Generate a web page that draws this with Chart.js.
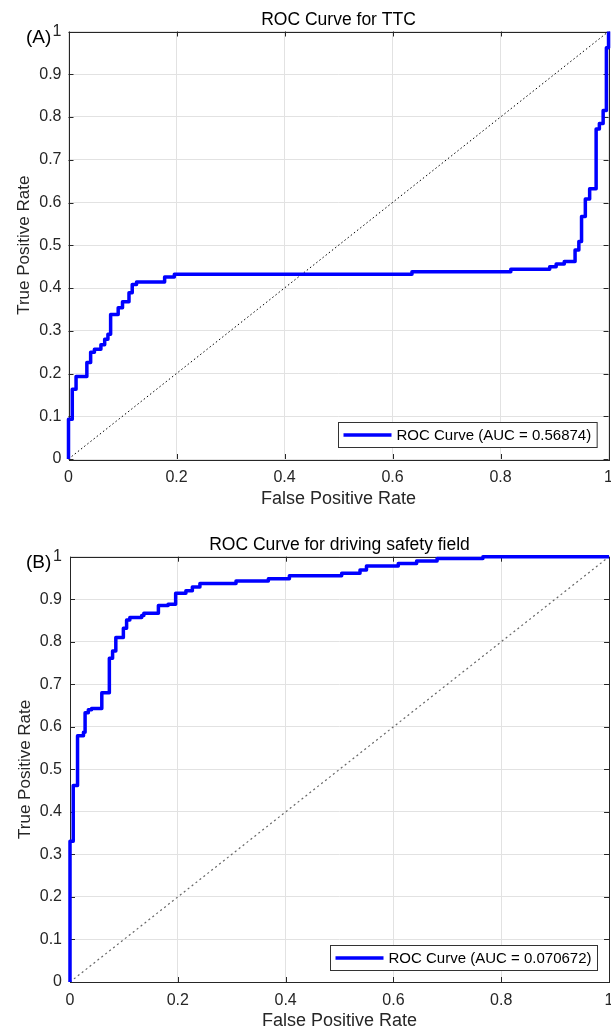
<!DOCTYPE html>
<html>
<head>
<meta charset="utf-8">
<script src="https://cdn.jsdelivr.net/npm/chart.js@4.4.1/dist/chart.umd.min.js"></script>
<style>
  html, body { margin: 0; padding: 0; background: #fff; overflow: hidden; }
  .box { position: absolute; left: 0; width: 622px; }
  #boxA { top: 0; height: 510px; }
  #boxB { top: 510px; height: 522px; }
</style>
</head>
<body>
<div class="box" id="boxA"><canvas id="rocA"></canvas></div>
<div class="box" id="boxB"><canvas id="rocB"></canvas></div>
<script>
// ROC points (fpr where tpr steps up, new tpr)
const fprTTC = [0, 0, 0.007, 0.014, 0.034, 0.041, 0.048, 0.060, 0.067, 0.073, 0.078, 0.092, 0.100, 0.112, 0.118, 0.126,
  0.178, 0.196, 0.636, 0.819, 0.891, 0.903, 0.918, 0.938, 0.945, 0.950, 0.957, 0.965, 0.977, 0.983, 0.990, 0.996, 1];
const tprTTC = [0, 0.093, 0.163, 0.193, 0.226, 0.250, 0.257, 0.267, 0.280, 0.292, 0.338, 0.354, 0.368, 0.389, 0.408, 0.414,
  0.426, 0.432, 0.438, 0.444, 0.450, 0.456, 0.462, 0.489, 0.509, 0.567, 0.608, 0.632, 0.772, 0.785, 0.815, 0.962, 1];

const fprDSF = [0, 0, 0.006, 0.014, 0.025, 0.028, 0.034, 0.040, 0.059, 0.073, 0.079, 0.085, 0.099, 0.105, 0.111, 0.133,
  0.137, 0.164, 0.182, 0.196, 0.215, 0.227, 0.241, 0.308, 0.368, 0.407, 0.504, 0.538, 0.550, 0.609, 0.643, 0.681, 0.766, 1];
const tprDSF = [0, 0.331, 0.462, 0.579, 0.587, 0.633, 0.640, 0.643, 0.680, 0.761, 0.778, 0.810, 0.832, 0.851, 0.857, 0.862,
  0.867, 0.885, 0.888, 0.914, 0.920, 0.929, 0.937, 0.943, 0.948, 0.955, 0.961, 0.969, 0.978, 0.984, 0.990, 0.996, 1, 1];

const diagonal = [0, 1];
const labelTTC = 'ROC Curve (AUC = 0.56874)';
const labelDSF = 'ROC Curve (AUC = 0.070672)';

const FONT = '"Liberation Sans", Arial, sans-serif';
const INK = '#262626';

const fmt = v => String(+(+v).toFixed(1));

// box, inward ticks, title, panel letter and legend the matlab way
const matlabBox = {
  id: 'matlabBox',
  beforeDatasetsDraw(chart) {
    const {ctx, chartArea: a, scales: {x, y}} = chart;
    ctx.save();
    ctx.strokeStyle = INK;
    ctx.lineWidth = 1;
    ctx.beginPath();
    x.ticks.forEach(t => {
      const px = Math.round(x.getPixelForValue(t.value)) + 0.5;
      ctx.moveTo(px, a.bottom); ctx.lineTo(px, a.bottom - 5);
      ctx.moveTo(px, a.top); ctx.lineTo(px, a.top + 5);
    });
    y.ticks.forEach(t => {
      const py = Math.round(y.getPixelForValue(t.value)) + 0.5;
      ctx.moveTo(a.left, py); ctx.lineTo(a.left + 5, py);
      ctx.moveTo(a.right, py); ctx.lineTo(a.right - 5, py);
    });
    ctx.stroke();
    ctx.strokeRect(Math.round(a.left) + 0.5, Math.round(a.top) + 0.5,
      Math.round(a.right - a.left), Math.round(a.bottom - a.top));
    ctx.restore();
  },
  afterDraw(chart, args, opts) {
    const {ctx, chartArea: a} = chart;
    ctx.save();
    ctx.fillStyle = '#000';
    ctx.textBaseline = 'middle';
    ctx.textAlign = 'center';
    ctx.font = '17.5px ' + FONT;
    ctx.fillText(opts.title, (a.left + a.right) / 2, a.top - 11.5);
    ctx.textAlign = 'left';
    ctx.font = '19px ' + FONT;
    ctx.fillText(opts.panel, 26, a.top + 6.5);

    const ds = chart.data.datasets[0];
    ctx.font = '15px ' + FONT;
    const tw = ctx.measureText(ds.label).width;
    const w = 5 + 48 + 5 + tw + 6, h = 25;
    const bx = Math.round(a.right - 12 - w) + 0.5, by = Math.round(a.bottom - 12 - h) + 0.5;
    ctx.fillStyle = '#fff';
    ctx.fillRect(bx, by, w, h);
    ctx.strokeStyle = '#333';
    ctx.lineWidth = 1;
    ctx.strokeRect(bx, by, w, h);
    ctx.strokeStyle = ds.borderColor;
    ctx.lineWidth = ds.borderWidth;
    ctx.beginPath();
    ctx.moveTo(bx + 5, by + h / 2);
    ctx.lineTo(bx + 53, by + h / 2);
    ctx.stroke();
    ctx.fillStyle = '#000';
    ctx.fillText(ds.label, bx + 58, by + h / 2 + 0.5);
    ctx.restore();
  }
};

function makeChart(id, fpr, tpr, label, diagStyle, deco, layout) {
  return new Chart(document.getElementById(id), {
    type: 'scatter',
    data: {
      datasets: [{
        label: label,
        data: fpr.map((f, i) => ({x: f, y: tpr[i]})),
        showLine: true,
        stepped: 'before',
        borderColor: '#0000ff',
        borderWidth: 3.5,
        borderJoinStyle: 'round',
        pointRadius: 0,
        fill: false,
        clip: false
      }, {
        label: 'chance',
        data: diagonal.map(v => ({x: v, y: v})),
        showLine: true,
        borderColor: diagStyle.color,
        borderWidth: diagStyle.width,
        borderDash: diagStyle.dash,
        pointRadius: 0,
        fill: false
      }]
    },
    options: {
      responsive: true,
      maintainAspectRatio: false,
      animation: false,
      events: [],
      layout: {padding: {top: layout.top, right: layout.right, bottom: 0, left: 0}},
      plugins: {
        legend: {display: false},
        tooltip: {enabled: false},
        matlabBox: deco
      },
      scales: {
        x: {
          type: 'linear', min: 0, max: 1,
          ticks: {stepSize: 0.2, padding: layout.xTickPad, color: INK, font: {size: 16, family: FONT},
            maxRotation: 0, autoSkip: false, callback: fmt},
          grid: {color: '#e2e2e2', drawTicks: false},
          border: {display: false},
          title: {display: true, text: 'False Positive Rate', color: INK, font: {size: 18, family: FONT}, padding: 0},
          afterFit: s => { s.height = layout.xHeight; }
        },
        y: {
          type: 'linear', min: 0, max: 1,
          ticks: {stepSize: 0.1, padding: layout.yTickPad, color: INK, font: {size: 16, family: FONT},
            autoSkip: false, callback: fmt},
          grid: {color: '#e2e2e2', drawTicks: false},
          border: {display: false},
          title: {display: true, text: 'True Positive Rate', color: INK, font: {size: 17, family: FONT},
            padding: {top: layout.yTitlePad, bottom: 0}},
          afterFit: s => { s.width = layout.yWidth; }
        }
      }
    },
    plugins: [matlabBox]
  });
}

makeChart('rocA', fprTTC, tprTTC, labelTTC,
  {color: '#000', width: 1, dash: [1.5, 2.5]},
  {title: 'ROC Curve for TTC', panel: '(A)'},
  {top: 31.5, right: 12, xHeight: 51, xTickPad: 9, yWidth: 68.5, yTickPad: 7, yTitlePad: 14});

makeChart('rocB', fprDSF, tprDSF, labelDSF,
  {color: '#666', width: 1.2, dash: [2, 3]},
  {title: 'ROC Curve for driving safety field', panel: '(B)'},
  {top: 46.7, right: 12.5, xHeight: 50, xTickPad: 8.5, yWidth: 70, yTickPad: 8, yTitlePad: 15});
</script>
</body>
</html>
